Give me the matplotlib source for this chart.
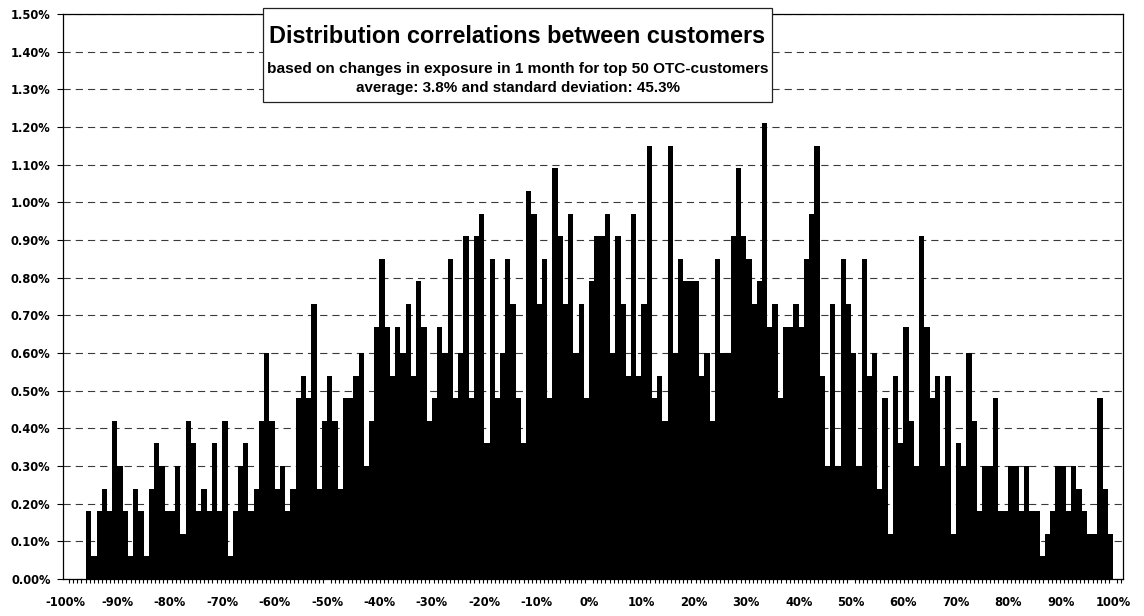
import numpy as np
import matplotlib
matplotlib.use("Agg")
import matplotlib.pyplot as plt
from matplotlib.patches import Rectangle
from matplotlib.ticker import MultipleLocator, FuncFormatter

# share of all customer pairs (%) per 1%-wide correlation bucket,
# first bucket starts at -96%, last one ends at +100%
bucket_start = -96
share_pct = [
    0.18, 0.06, 0.18, 0.24, 0.18, 0.42, 0.30, 0.18, 0.06, 0.24,
    0.18, 0.06, 0.24, 0.36, 0.30, 0.18, 0.18, 0.30, 0.12, 0.42,
    0.36, 0.18, 0.24, 0.18, 0.36, 0.18, 0.42, 0.06, 0.18, 0.30,
    0.36, 0.18, 0.24, 0.42, 0.60, 0.42, 0.24, 0.30, 0.18, 0.24,
    0.48, 0.54, 0.48, 0.73, 0.24, 0.42, 0.54, 0.42, 0.24, 0.48,
    0.48, 0.54, 0.60, 0.30, 0.42, 0.67, 0.85, 0.67, 0.54, 0.67,
    0.60, 0.73, 0.54, 0.79, 0.67, 0.42, 0.48, 0.67, 0.60, 0.85,
    0.48, 0.60, 0.91, 0.48, 0.91, 0.97, 0.36, 0.85, 0.48, 0.60,
    0.85, 0.73, 0.48, 0.36, 1.03, 0.97, 0.73, 0.85, 0.48, 1.09,
    0.91, 0.73, 0.97, 0.60, 0.73, 0.48, 0.79, 0.91, 0.91, 0.97,
    0.60, 0.91, 0.73, 0.54, 0.97, 0.54, 0.73, 1.15, 0.48, 0.54,
    0.42, 1.15, 0.60, 0.85, 0.79, 0.79, 0.79, 0.54, 0.60, 0.42,
    0.85, 0.60, 0.60, 0.91, 1.09, 0.91, 0.85, 0.73, 0.79, 1.21,
    0.67, 0.73, 0.48, 0.67, 0.67, 0.73, 0.67, 0.85, 0.97, 1.15,
    0.54, 0.30, 0.73, 0.30, 0.85, 0.73, 0.60, 0.30, 0.85, 0.54,
    0.60, 0.24, 0.48, 0.12, 0.54, 0.36, 0.67, 0.42, 0.30, 0.91,
    0.67, 0.48, 0.54, 0.30, 0.54, 0.12, 0.36, 0.30, 0.60, 0.42,
    0.18, 0.30, 0.30, 0.48, 0.18, 0.18, 0.30, 0.30, 0.18, 0.30,
    0.18, 0.18, 0.06, 0.12, 0.18, 0.30, 0.30, 0.18, 0.30, 0.24,
    0.18, 0.12, 0.12, 0.48, 0.24, 0.12,
]

x_ticks = list(range(-100, 101, 10))
y_max = 1.5

title = "Distribution correlations between customers"
subtitle1 = "based on changes in exposure in 1 month for top 50 OTC-customers"
subtitle2 = "average: 3.8% and standard deviation: 45.3%"

W, H = 1144, 616
fig = plt.figure(figsize=(W / 100, H / 100), dpi=100)
# plot area in pixels: x 63..1123, y 14..579
ax = fig.add_axes([63 / W, 1 - 579 / H, (1123 - 63) / W, (579 - 14) / H])

edges = np.arange(bucket_start, bucket_start + len(share_pct) + 1)
ax.stairs(share_pct, edges, fill=True, color="black", lw=0, zorder=2)

ax.set_xlim(-100.4, 101.9)
ax.set_ylim(0, y_max)

ax.yaxis.set_major_locator(MultipleLocator(0.1))
ax.yaxis.set_major_formatter(FuncFormatter(lambda v, p: f"{v:.2f}%"))
ax.grid(axis="y", color="#3a3a3a", lw=0.8, linestyle=(0, (6.5, 4.5)), zorder=1)
ax.set_axisbelow(True)

ax.set_xticks(x_ticks)
ax.set_xticklabels([f"{t}%" for t in x_ticks])
ax.xaxis.set_minor_locator(MultipleLocator(200 / 256))

tick_font = dict(family="DejaVu Sans", weight="bold", size=8.3)
for lab in ax.get_xticklabels() + ax.get_yticklabels():
    lab.set_fontproperties(matplotlib.font_manager.FontProperties(**tick_font))

ax.tick_params(axis="x", which="major", length=0, pad=12)
ax.tick_params(axis="x", which="minor", length=3, width=0.8, direction="out")
ax.tick_params(axis="y", which="major", length=4, width=0.8, direction="out", pad=5)

for s in ax.spines.values():
    s.set_linewidth(0.9)
    s.set_color("black")

# title box on top of the grid
bx0, bx1, by0, by1 = 263, 772, 8, 102
fig.patches.append(Rectangle((bx0 / W, 1 - by1 / H), (bx1 - bx0) / W, (by1 - by0) / H,
                             transform=fig.transFigure, facecolor="white",
                             edgecolor="#222222", lw=0.9, zorder=5))
cx = (bx0 + bx1) / 2 / W
fig.text(cx, 1 - 43 / H, title, ha="center", va="baseline", family="Liberation Sans",
         weight="bold", size=16.8, zorder=6)
fig.text(cx, 1 - 72.5 / H, subtitle1, ha="center", va="baseline", family="Liberation Sans",
         weight="bold", size=11.1, zorder=6)
fig.text(cx, 1 - 92 / H, subtitle2, ha="center", va="baseline", family="Liberation Sans",
         weight="bold", size=10.9, zorder=6)

fig.savefig("out.png", dpi=100, facecolor="white")
